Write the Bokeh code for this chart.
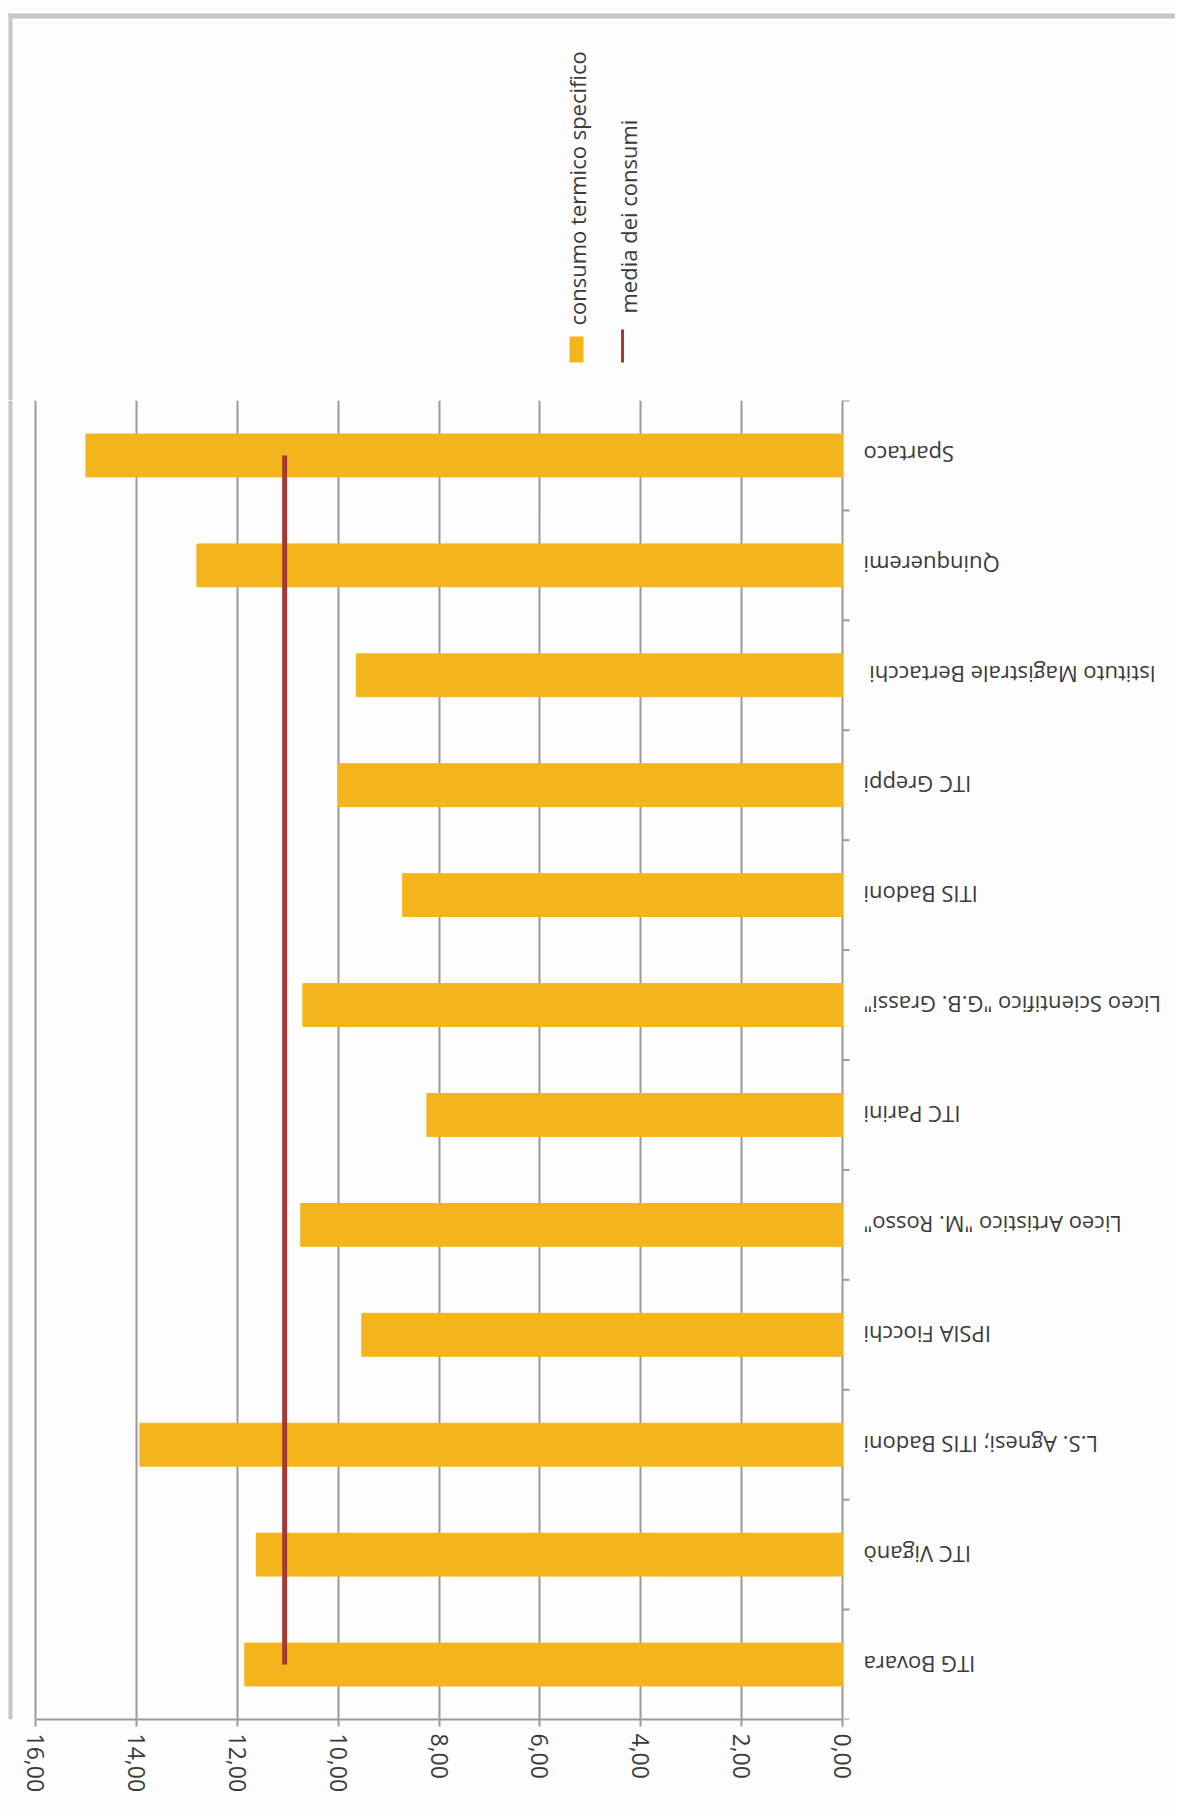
import math
from bokeh.plotting import figure
from bokeh.layouts import column
from bokeh.models import FactorRange, Range1d, FixedTicker, LinearAxis, BoxAnnotation
from bokeh.core.properties import value
from bokeh.embed import file_html
from bokeh.resources import INLINE

# ---- data ----
categories = ["Spartaco", "Quinqueremi", "Istituto Magistrale  Bertacchi", "ITC Greppi",
              "ITIS Badoni", "Liceo Scientifico \"G.B. Grassi\"", "ITC Parini",
              "Liceo Artistico \"M. Rosso\"", "IPSIA Fiocchi", "L.S. Agnesi; ITIS Badoni",
              "ITC Viganò", "ITG Bovara"]
consumo = [15.00, 12.80, 9.64, 10.00, 8.72, 10.70, 8.24, 10.74, 9.53, 13.93, 11.62, 11.85]
media = [11.06] * len(categories)
value_ticks = [0, 2, 4, 6, 8, 10, 12, 14, 16]
value_tick_labels = ["0,00", "2,00", "4,00", "6,00", "8,00", "10,00", "12,00", "14,00", "16,00"]
legend_labels = ["consumo termico specifico", "media dei consumi"]

# ---- style ----
BAR = "#F4B41C"
LINE = "#A33B32"
GRID = "#a0979a"
EDGE = "#c9c5c2"
TXT = "#3a3a3a"
BG = "#fdfdfe"
FONT = "Open Sans"
FS = "22px"

W = 1175
TOP_H = 400          # legend strip height
FRAME_H = 1319       # plot frame height
BOTTOM = 93          # space for the value axis labels
X16, X0 = 35, 842    # pixel positions of 16 and 0
PX = (X0 - X16) / 16.0

# ---------------- legend strip ----------------
leg = figure(width=W, height=TOP_H, output_backend="svg", toolbar_location=None,
             x_range=Range1d(0, W), y_range=Range1d(0, TOP_H),
             x_axis_location=None, y_axis_location=None, min_border=0)
leg.grid.visible = False
leg.outline_line_color = None
leg.background_fill_color = BG
leg.border_fill_color = BG

# outer frame edges (top, left)
leg.quad(left=[8, 8], right=[W, 12], top=[387, 387], bottom=[382, 0],
         fill_color=EDGE, line_color=None)
# legend items (rotated)
leg.quad(left=[569], right=[583], top=[64], bottom=[38], fill_color=BAR, line_color=None)
leg.quad(left=[620.5], right=[623.5], top=[71], bottom=[38], fill_color=LINE, line_color=None)
leg.text(x=[576, 627], y=[75, 87], text=legend_labels, angle=math.pi / 2,
         text_align="left", text_baseline="middle",
         text_font=value(FONT), text_font_size=FS, text_color=TXT)

# ---------------- main chart ----------------
p = figure(width=W, height=FRAME_H + BOTTOM, output_backend="svg", toolbar_location=None,
           x_range=Range1d(16 + X16 / PX, -(W - X0) / PX),
           y_range=FactorRange(factors=list(reversed(categories))),
           x_axis_location=None, y_axis_location=None,
           min_border_left=0, min_border_right=0, min_border_top=0, min_border_bottom=BOTTOM)
p.background_fill_color = BG
p.border_fill_color = BG
p.outline_line_color = None

p.xgrid.ticker = FixedTicker(ticks=value_ticks)
p.xgrid.grid_line_color = GRID
p.xgrid.grid_line_width = 2
p.ygrid.grid_line_color = None

p.hbar(y=categories, right=consumo, left=0, height=0.39, color=BAR)
p.line(x=media, y=categories, line_color=LINE, line_width=5)

# category axis: boundary ticks at x = 0 (category edges) and upside-down labels
n = len(categories)
p.segment(x0=[0] * (n + 1), x1=[-7 / PX] * (n + 1), y0=list(range(n + 1)), y1=list(range(n + 1)),
          line_color=GRID, line_width=2)
p.text(x=[0] * n, y=categories, text=categories, angle=math.pi,
       text_align="right", text_baseline="middle", x_offset=21,
       text_font=value(FONT), text_font_size=FS, text_color=TXT)

# value axis (below)
xa = LinearAxis(ticker=FixedTicker(ticks=value_ticks), bounds=(0, 16),
                major_label_overrides={t: l for t, l in zip(value_ticks, value_tick_labels)})
xa.major_label_orientation = "vertical"
xa.axis_line_color = GRID
xa.axis_line_width = 2
xa.major_tick_line_color = GRID
xa.major_tick_line_width = 2
xa.major_tick_in = 0
xa.major_tick_out = 7
xa.minor_tick_line_color = None
xa.major_label_standoff = 7
xa.major_label_text_font = FONT
xa.major_label_text_font_size = "23px"
xa.major_label_text_color = TXT
p.add_layout(xa, "below")

# left outer edge beside the chart
p.add_layout(BoxAnnotation(left=8, right=12, left_units="screen", right_units="screen",
                           fill_color=EDGE, fill_alpha=1, line_color=None))

layout = column(leg, p, spacing=0)
open("out.html", "w").write(file_html(layout, INLINE))
